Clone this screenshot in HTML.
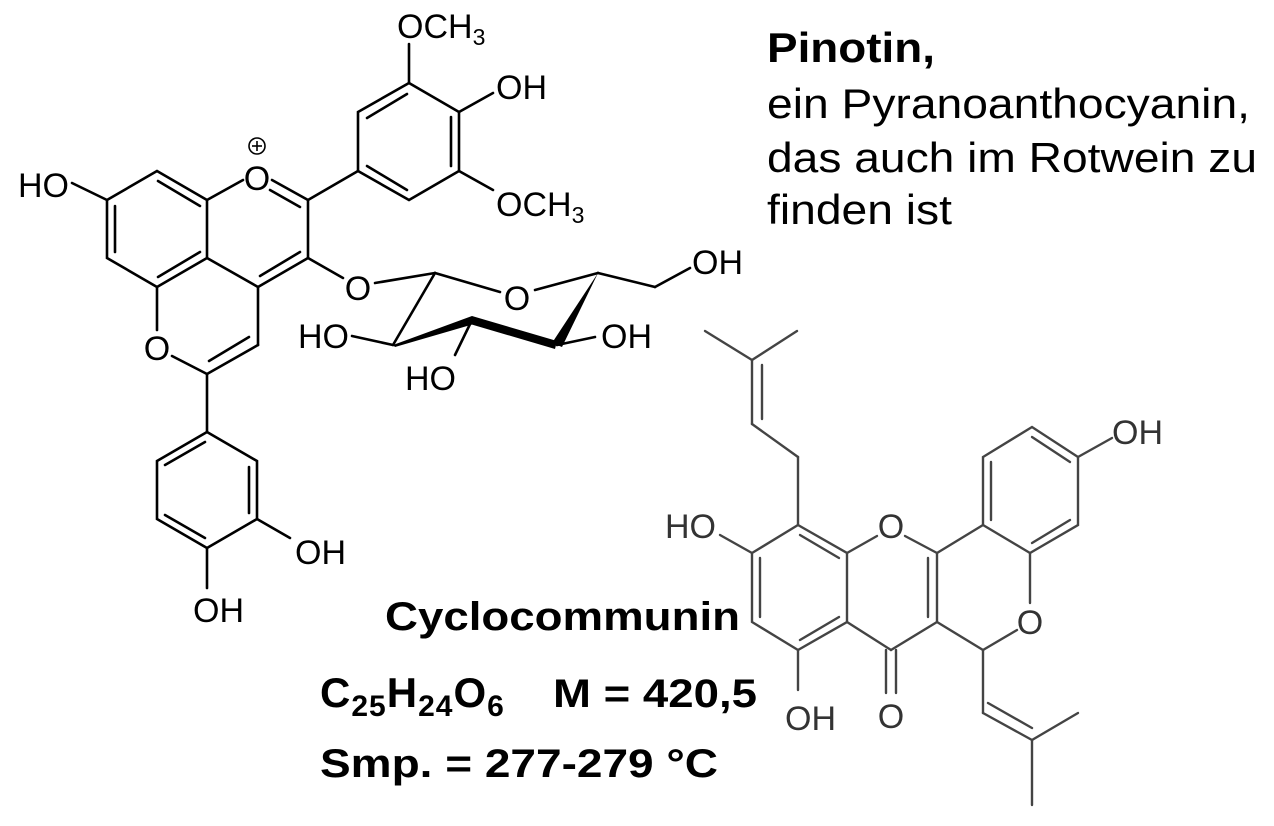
<!DOCTYPE html>
<html><head><meta charset="utf-8"><style>
html,body{margin:0;padding:0;background:#fff;}
svg{display:block;}
.t{font-family:"Liberation Sans",sans-serif;}
</style></head><body>
<svg width="1274" height="826" viewBox="0 0 1274 826" xmlns="http://www.w3.org/2000/svg">
<g stroke="#000" stroke-width="2.6" fill="none" stroke-linecap="round">
<line x1="72" y1="183" x2="107" y2="200"/>
<path d="M107,200 L157,171 L207,200 L207,258 L157,287 L107,258 Z"/>
<line x1="115" y1="206" x2="115" y2="252"/>
<line x1="158" y1="181" x2="200" y2="206"/>
<line x1="158" y1="277" x2="200" y2="252"/>
<line x1="207" y1="200" x2="243" y2="180"/>
<line x1="272" y1="180" x2="308" y2="200"/>
<line x1="270" y1="190" x2="300" y2="207"/>
<line x1="308" y1="200" x2="308" y2="258"/>
<line x1="308" y1="258" x2="258" y2="287"/>
<line x1="300" y1="252" x2="260" y2="276"/>
<line x1="207" y1="258" x2="258" y2="287"/>
<line x1="258" y1="287" x2="258" y2="345"/>
<line x1="258" y1="345" x2="207" y2="374"/>
<line x1="249" y1="337" x2="209" y2="361"/>
<line x1="207" y1="374" x2="172" y2="356"/>
<line x1="157" y1="287" x2="157" y2="330"/>
<line x1="207" y1="374" x2="207" y2="432"/>
<path d="M207,432 L257,461 L257,519 L207,548 L157,519 L157,461 Z"/>
<line x1="249" y1="467" x2="249" y2="513"/>
<line x1="205" y1="538" x2="165" y2="515"/>
<line x1="165" y1="465" x2="205" y2="442"/>
<line x1="257" y1="519" x2="290" y2="538"/>
<line x1="207" y1="548" x2="207" y2="588"/>
<line x1="308" y1="200" x2="358" y2="171"/>
<path d="M358,171 L358,112 L409,83 L459,112 L459,171 L409,200 Z"/>
<line x1="367" y1="118" x2="407" y2="94"/>
<line x1="451" y1="117" x2="451" y2="166"/>
<line x1="367" y1="166" x2="407" y2="190"/>
<line x1="409" y1="83" x2="409" y2="44"/>
<line x1="459" y1="112" x2="493" y2="93"/>
<line x1="459" y1="171" x2="493" y2="190"/>
<line x1="308" y1="258" x2="343" y2="278"/>
<line x1="375" y1="283" x2="435" y2="273"/>
<line x1="435" y1="273" x2="500" y2="292"/>
<line x1="535" y1="290" x2="598" y2="273"/>
<line x1="598" y1="273" x2="655" y2="287"/>
<line x1="655" y1="287" x2="690" y2="268"/>
<line x1="435" y1="273" x2="393" y2="345"/>
<line x1="393" y1="345" x2="352" y2="336"/>
<line x1="472" y1="320" x2="455" y2="355"/>
<line x1="557" y1="345" x2="595" y2="337"/>
</g>
<g fill="#000">
<polygon points="598,273 552,343 562,347"/>
<polygon points="393,345 472,316 474,324 395,347"/>
<polygon points="472,316 557,341 555,349 470,324"/>
</g>
<g class="t" font-size="34" fill="#000">
<text x="18" y="197">HO</text>
<text x="257" y="190" text-anchor="middle">O</text>
<circle cx="257" cy="146" r="8" fill="none" stroke="#000" stroke-width="1.6"/>
<line x1="252" y1="146" x2="262" y2="146" stroke="#000" stroke-width="1.6"/>
<line x1="257" y1="141" x2="257" y2="151" stroke="#000" stroke-width="1.6"/>
<text x="157" y="360" text-anchor="middle">O</text>
<text x="295" y="564">OH</text>
<text x="193" y="622">OH</text>
<text x="397" y="38">OCH<tspan font-size="23" dy="7">3</tspan></text>
<text x="496" y="99">OH</text>
<text x="496" y="216">OCH<tspan font-size="23" dy="7">3</tspan></text>
<text x="358" y="300" text-anchor="middle">O</text>
<text x="517" y="310" text-anchor="middle">O</text>
<text x="692" y="274">OH</text>
<text x="601" y="348">OH</text>
<text x="298" y="348">HO</text>
<text x="405" y="390">HO</text>
</g>
<g stroke="#444" stroke-width="2.4" fill="none" stroke-linecap="round">
<line x1="705" y1="331" x2="752" y2="360"/>
<line x1="752" y1="360" x2="797" y2="331"/>
<line x1="752" y1="360" x2="752" y2="424"/>
<line x1="762" y1="365" x2="762" y2="419"/>
<line x1="752" y1="424" x2="798" y2="457"/>
<line x1="798" y1="457" x2="798" y2="525"/>
<path d="M798,525 L847,553 L847,622 L798,650 L752,622 L752,553 Z"/>
<line x1="800" y1="535" x2="839" y2="558"/>
<line x1="760" y1="558" x2="760" y2="617"/>
<line x1="800" y1="640" x2="839" y2="617"/>
<line x1="752" y1="553" x2="720" y2="535"/>
<line x1="798" y1="650" x2="798" y2="690"/>
<line x1="847" y1="553" x2="877" y2="536"/>
<line x1="905" y1="536" x2="937" y2="553"/>
<line x1="937" y1="553" x2="937" y2="622"/>
<line x1="928" y1="558" x2="928" y2="617"/>
<line x1="847" y1="622" x2="891" y2="650"/>
<line x1="937" y1="622" x2="891" y2="650"/>
<line x1="886" y1="650" x2="886" y2="693"/>
<line x1="896" y1="650" x2="896" y2="693"/>
<line x1="937" y1="622" x2="983" y2="650"/>
<line x1="983" y1="650" x2="1017" y2="630"/>
<line x1="1030" y1="553" x2="1030" y2="603"/>
<line x1="937" y1="553" x2="983" y2="525"/>
<path d="M983,525 L1030,553 L1078,525 L1078,457 L1032,427 L983,457 Z"/>
<line x1="991" y1="462" x2="991" y2="520"/>
<line x1="1032" y1="437" x2="1070" y2="462"/>
<line x1="1032" y1="543" x2="1070" y2="520"/>
<line x1="1078" y1="457" x2="1112" y2="438"/>
<line x1="983" y1="650" x2="983" y2="713"/>
<line x1="983" y1="713" x2="1032" y2="740"/>
<line x1="988" y1="703" x2="1032" y2="728"/>
<line x1="1032" y1="740" x2="1078" y2="713"/>
<line x1="1032" y1="740" x2="1032" y2="805"/>
</g>
<g class="t" font-size="34" fill="#333">
<text x="665" y="538">HO</text>
<text x="891" y="538" text-anchor="middle">O</text>
<text x="785" y="730">OH</text>
<text x="891" y="728" text-anchor="middle">O</text>
<text x="1030" y="634" text-anchor="middle">O</text>
<text x="1112" y="444">OH</text>
</g>
<g class="t" fill="#000">
<text x="767" y="62" font-size="42" font-weight="bold" textLength="168" lengthAdjust="spacingAndGlyphs">Pinotin,</text>
<text x="767" y="118" font-size="42" textLength="483" lengthAdjust="spacingAndGlyphs">ein Pyranoanthocyanin,</text>
<text x="767" y="172" font-size="42" textLength="490" lengthAdjust="spacingAndGlyphs">das auch im Rotwein zu</text>
<text x="767" y="224" font-size="42" textLength="185" lengthAdjust="spacingAndGlyphs">finden ist</text>
<text x="385" y="630" font-size="40" font-weight="bold" textLength="355" lengthAdjust="spacingAndGlyphs">Cyclocommunin</text>
<text x="320" y="707" font-size="42" font-weight="bold" letter-spacing="1">C<tspan font-size="30" dy="9">25</tspan><tspan dy="-9">H</tspan><tspan font-size="30" dy="9">24</tspan><tspan dy="-9">O</tspan><tspan font-size="30" dy="9">6</tspan></text>
<text x="553" y="707" font-size="40" font-weight="bold" textLength="204" lengthAdjust="spacingAndGlyphs">M = 420,5</text>
<text x="320" y="777" font-size="40" font-weight="bold" textLength="398" lengthAdjust="spacingAndGlyphs">Smp. = 277-279 °C</text>
</g>
</svg>
</body></html>
